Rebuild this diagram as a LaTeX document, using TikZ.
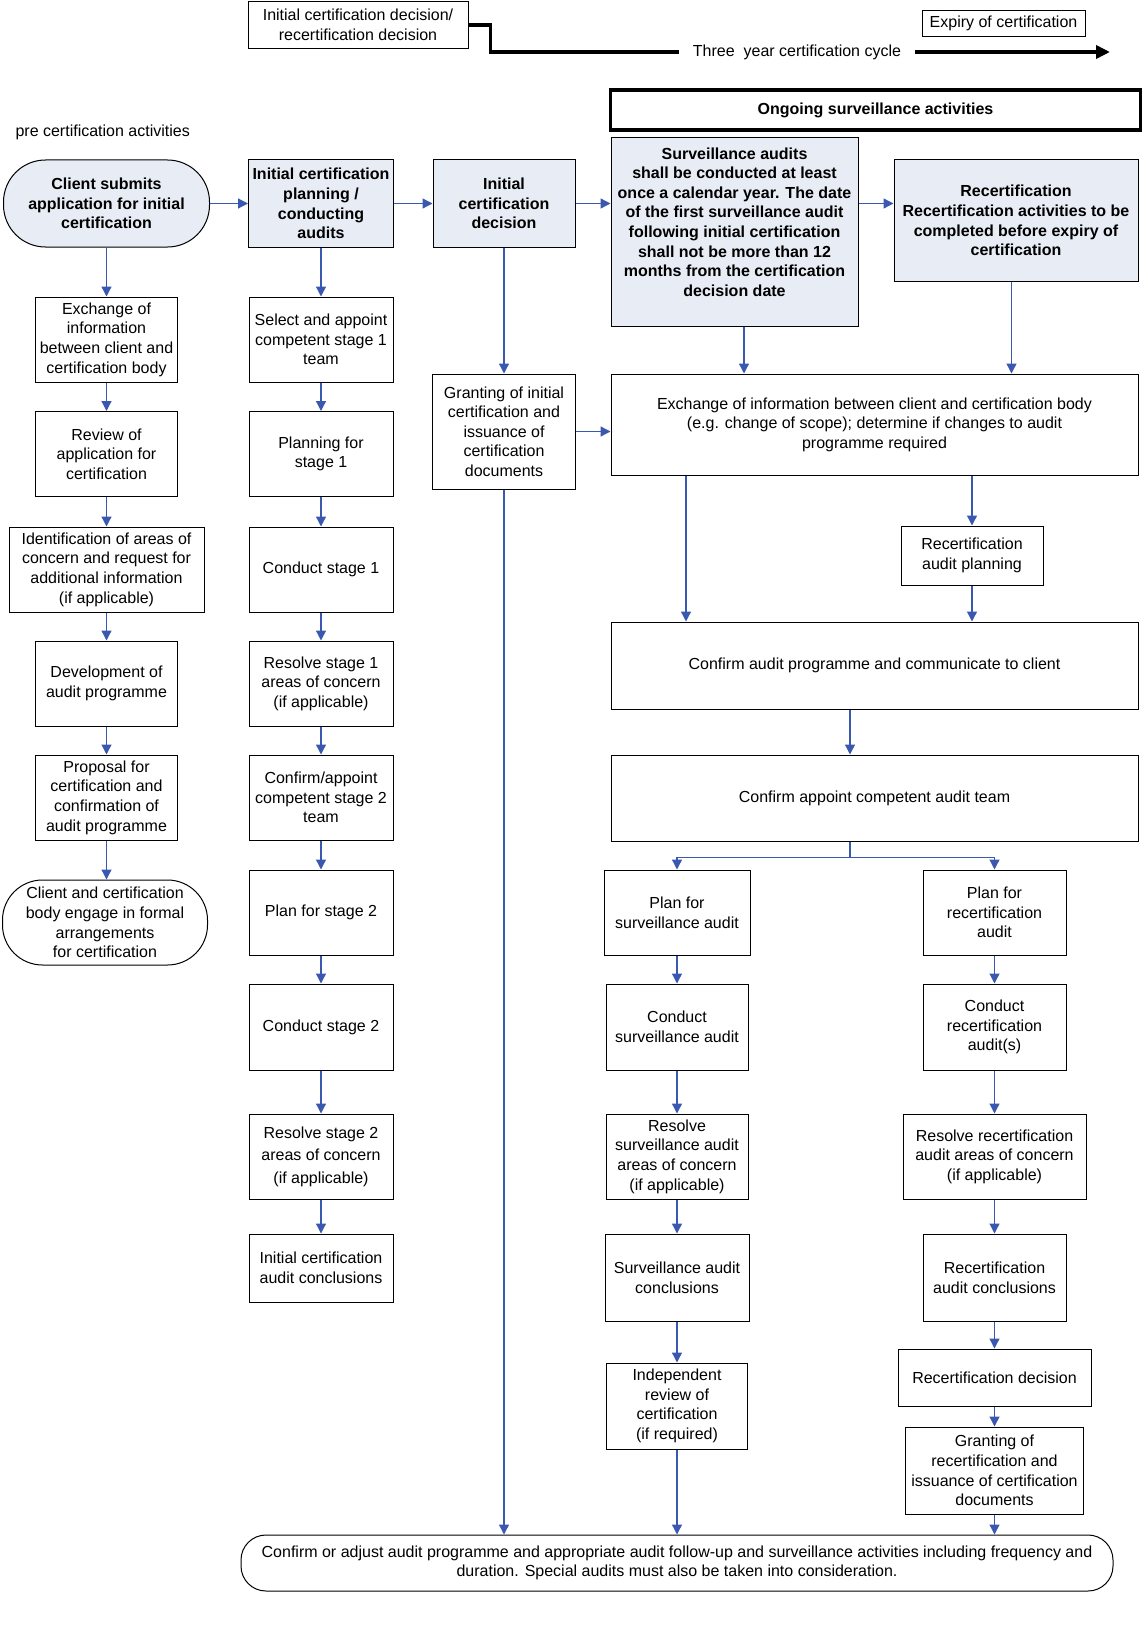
\documentclass[tikz,border=0pt]{standalone}
\usepackage{fontspec}
\setmainfont{Liberation Sans}
\usetikzlibrary{arrows.meta}
\definecolor{flowblue}{RGB}{59,88,176}
\definecolor{headfill}{RGB}{232,236,245}

\begin{document}
\begin{tikzpicture}[x=1pt,y=-1pt,
        font=\fontsize{16}{19.6}\selectfont,
        box/.style={draw, line width=1pt, align=center, inner sep=1pt},
        cbox/.style={box, minimum width=142pt, minimum height=85pt},
        headbox/.style={box, fill=headfill, font=\fontsize{16}{19.6}\selectfont\bfseries},
        link/.style={flowblue, line width=1.3pt, -{Triangle[length=10pt,width=10pt]}},
        cycleline/.style={line width=3.5pt}]
        \useasboundingbox (0,0) rectangle (1144,1648);
        % certification cycle
        \node[box, minimum width=220pt, minimum height=47pt] (cyc) at (358,25) {Initial certification decision/\\recertification decision};
        \node[box, minimum width=163pt, minimum height=26pt] (expiry) at (1003.5,23.75) {Expiry of certification};
        \node[inner xsep=14pt] (cyctxt) at (797,52) {Three\ \ year certification cycle};
        \coordinate (cycend) at (1110,52);
        \draw[cycleline] (cyc.east) -- ++(22,0) |- (cyctxt.west);
        \draw[cycleline, -{Triangle[length=14pt,width=13pt]}] (cyctxt.east) -- (cycend);
        \node[draw, line width=3.5pt, minimum width=530pt, minimum height=40pt, font=\fontsize{16}{19.6}\selectfont\bfseries] (ongoing) at (875.5,110) {Ongoing surveillance activities};
        \node[anchor=west] (pretxt) at (12,132) {pre certification activities};
        % top row
        \node[headbox, rounded corners=42pt, minimum width=206pt, minimum height=87pt] (apply) at (106.5,203.5) {Client submits\\application for initial\\certification};
        \node[headbox, minimum width=145pt, minimum height=87pt] (plan) at (321,203.5) {Initial certification\\planning /\\conducting\\audits};
        \node[headbox, minimum width=142pt, minimum height=87pt] (decide) at (504,203.5) {Initial\\certification\\decision};
        \node[headbox, minimum width=247pt, minimum height=188pt, text depth=20pt] (surv) at (734.5,232) {Surveillance audits\\shall be conducted at least\\once a calendar year. The date\\of the first surveillance audit\\following initial certification\\shall not be more than 12\\months from the certification\\decision date};
        \node[headbox, minimum width=244pt, minimum height=121pt] (recert) at (1016,220.5) {Recertification\\Recertification activities to be\\completed before expiry of\\certification};
        % pre certification column
        \node[cbox] (exch1) at (106.5,339.5) {Exchange of\\information\\between client and\\certification body};
        \node[cbox] (review) at (106.5,454) {Review of\\application for\\certification};
        \node[cbox, minimum width=195pt] (ident) at (106.5,569.5) {Identification of areas of\\concern and request for\\additional information\\(if applicable)};
        \node[cbox] (devel) at (106.5,683.5) {Development of\\audit programme};
        \node[cbox] (propos) at (106.5,797.5) {Proposal for\\certification and\\confirmation of\\audit programme};
        \node[box, rounded corners=40pt, minimum width=205pt, minimum height=85pt] (engage) at (105,922.5) {Client and certification\\body engage in formal\\arrangements\\for certification};
        % initial audit column
        \node[cbox, minimum width=144pt] (select) at (321,339.5) {Select and appoint\\competent stage 1\\team};
        \node[cbox, minimum width=144pt] (plan1) at (321,454) {Planning for\\stage 1};
        \node[cbox, minimum width=144pt] (cond1) at (321,569.5) {Conduct stage 1};
        \node[cbox, minimum width=144pt] (res1) at (321,683.5) {Resolve stage 1\\areas of concern\\(if applicable)};
        \node[cbox, minimum width=144pt] (appoint2) at (321,797.5) {Confirm/appoint\\competent stage 2\\team};
        \node[cbox, minimum width=144pt] (plan2) at (321,912.5) {Plan for stage 2};
        \node[cbox, minimum width=144pt, minimum height=86pt] (cond2) at (321,1027) {Conduct stage 2};
        \node[cbox, minimum width=144pt] (res2) at (321,1156.5) {Resolve stage 2\\[3pt]areas of concern\\[3pt](if applicable)};
        \node[cbox, minimum width=144pt, minimum height=68pt] (concl1) at (321,1268) {Initial certification\\audit conclusions};
        % decision column
        \node[cbox, minimum width=143pt, minimum height=115pt] (grant1) at (504,431.5) {Granting of initial\\certification and\\issuance of\\certification\\documents};
        % surveillance and recertification
        \node[box, minimum width=527pt, minimum height=101pt] (exch2) at (874.5,424.5) {Exchange of information between client and certification body\\(e.g. change of scope); determine if changes to audit\\programme required};
        \node[cbox, minimum height=59pt] (rplan) at (972,555.5) {Recertification\\audit planning};
        \node[box, minimum width=527pt, minimum height=87pt] (confprog) at (874.5,665.5) {Confirm audit programme and communicate to client};
        \node[box, minimum width=527pt, minimum height=86pt] (confteam) at (874.5,798) {Confirm appoint competent audit team};
        \node[cbox, minimum width=146pt] (splan) at (677,912.5) {Plan for\\surveillance audit};
        \node[cbox, minimum height=86pt] (scond) at (677,1027) {Conduct\\surveillance audit};
        \node[cbox] (sres) at (677,1156.5) {Resolve\\surveillance audit\\areas of concern\\(if applicable)};
        \node[cbox, minimum width=144pt, minimum height=87pt] (sconcl) at (677,1277.5) {Surveillance audit\\conclusions};
        \node[cbox, minimum width=141pt, minimum height=86pt] (indep) at (677,1406) {Independent\\review of\\certification\\(if required)};
        \node[cbox, minimum width=143pt] (rplan2) at (994.5,912.5) {Plan for\\recertification\\audit};
        \node[cbox, minimum width=143pt, minimum height=86pt] (rcond) at (994.5,1027) {Conduct\\recertification\\audit(s)};
        \node[cbox, minimum width=183pt] (rres) at (994.5,1156.5) {Resolve recertification\\audit areas of concern\\(if applicable)};
        \node[cbox, minimum width=143pt, minimum height=87pt] (rconcl) at (994.5,1277.5) {Recertification\\audit conclusions};
        \node[box, minimum width=193pt, minimum height=57pt] (rdec) at (994.5,1377.5) {Recertification decision};
        \node[box, minimum width=178pt, minimum height=87pt] (rgrant) at (994.5,1470.5) {Granting of\\recertification and\\issuance of certification\\documents};
        % closing box
        \node[box, rounded corners=25pt, minimum width=872pt, minimum height=56pt] (final) at (677,1563) {Confirm or adjust audit programme and appropriate audit follow-up and surveillance activities including frequency and\\duration. Special audits must also be taken into consideration.};
        % top row arrows
        \draw[link] (apply.east) -- (plan.west);
        \draw[link] (plan.east) -- (decide.west);
        \draw[link] (decide.east) -- (decide.east -| surv.west);
        \draw[link] (surv.east |- apply.east) -- (recert.west |- apply.east);
        % column arrows
        \foreach \a/\b in {apply/exch1, exch1/review, review/ident, ident/devel, devel/propos,
                plan/select, select/plan1, plan1/cond1, cond1/res1, res1/appoint2, appoint2/plan2, plan2/cond2, cond2/res2, res2/concl1,
                decide/grant1, rplan/confprog,
                splan/scond, scond/sres, sres/sconcl, sconcl/indep,
                rplan2/rcond, rcond/rres, rres/rconcl, rconcl/rdec, rdec/rgrant}
            \draw[link] (\a.south) -- (\a.south |- \b.north);
        \draw[link] (propos.south) -- (propos.south |- engage.north);
        % into the closing box
        \foreach \a in {grant1, indep, rgrant}
            \draw[link] (\a.south) -- (\a.south |- final.north);
        % right side arrows
        \draw[link] (grant1.east) -- (grant1.east -| exch2.west);
        \draw[link] ([xshift=9.5pt]surv.south) -- ([xshift=9.5pt]surv.south |- exch2.north);
        \draw[link] ([xshift=-4.5pt]recert.south) -- ([xshift=-4.5pt]recert.south |- exch2.north);
        \draw[link] ([xshift=-188.5pt]exch2.south) -- ([xshift=-188.5pt]exch2.south |- confprog.north);
        \draw[link] (rplan.north |- exch2.south) -- (rplan.north);
        \draw[link] ([xshift=-24.5pt]confprog.south) -- ([xshift=-24.5pt]confprog.south |- confteam.north);
        \draw[link] ([xshift=-24.5pt]confteam.south) -- ++(0,16) -| (splan.north);
        \draw[link] ([xshift=-24.5pt]confteam.south) -- ++(0,16) -| (rplan2.north);
    \end{tikzpicture}
\end{document}
